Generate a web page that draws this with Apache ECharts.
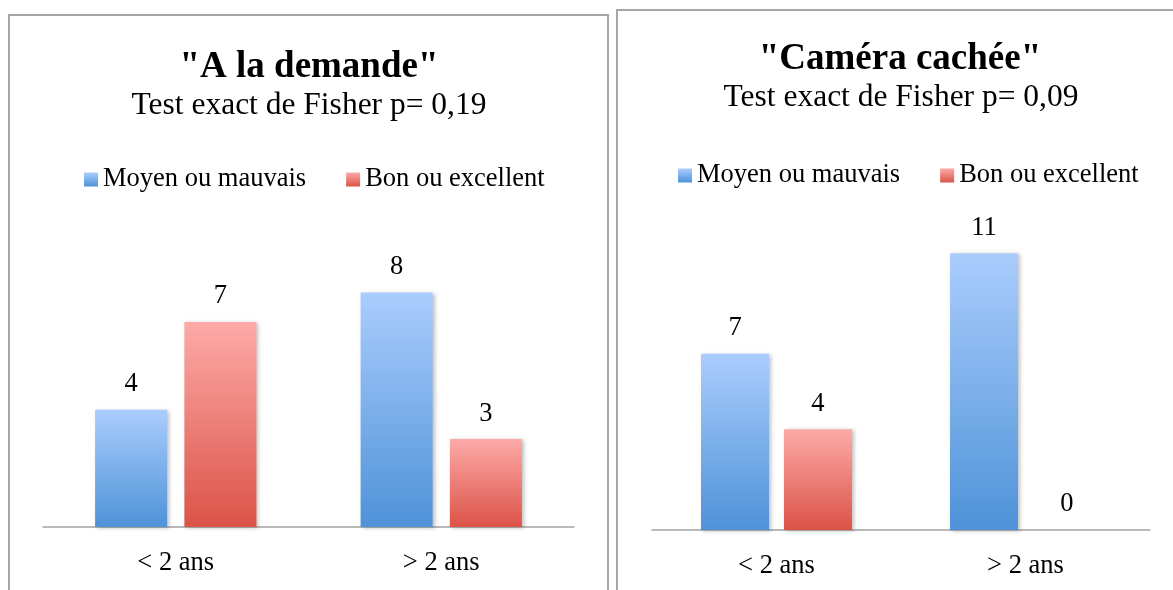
<!DOCTYPE html>
<html>
<head>
<meta charset="utf-8">
<script src="https://cdn.jsdelivr.net/npm/echarts@6/dist/echarts.min.js"></script>
<style>
  html, body { margin: 0; padding: 0; background: #fff; }
  #chart { width: 1173px; height: 590px; }
</style>
</head>
<body>
<div id="chart"></div>
<script>
const categories = ['< 2 ans', '> 2 ans']
const seriesNames = ['Moyen ou mauvais', 'Bon ou excellent']

const demandeTitle = '"A la demande"'
const demandeSubtitle = 'Test exact de Fisher p= 0,19'
const demandeMoyen = [4, 8]
const demandeBon = [7, 3]

const cameraTitle = '"Caméra cachée"'
const cameraSubtitle = 'Test exact de Fisher p= 0,09'
const cameraMoyen = [7, 11]
const cameraBon = [4, 0]

const FONT = "'Liberation Serif', 'Times New Roman', serif"

const blueGrad = new echarts.graphic.LinearGradient(0, 0, 0, 1, [
  { offset: 0, color: '#aacdfd' },
  { offset: 1, color: '#4e92d8' }
])
const redGrad = new echarts.graphic.LinearGradient(0, 0, 0, 1, [
  { offset: 0, color: '#fdaaa8' },
  { offset: 1, color: '#db5347' }
])

const barShadow = {
  shadowBlur: 4,
  shadowOffsetX: 2,
  shadowOffsetY: 1,
  shadowColor: 'rgba(0,0,0,0.25)'
}

const chart = echarts.init(document.getElementById('chart'))

// helper for one bar series
const makeBar = (name, data, color, idx, width, gap) => ({
  name: name,
  type: 'bar',
  xAxisIndex: idx,
  yAxisIndex: idx,
  data: data,
  barWidth: width,
  barGap: gap,
  itemStyle: Object.assign({ color: color }, barShadow),
  label: {
    show: true,
    position: 'top',
    distance: 12,
    color: '#000',
    fontFamily: FONT,
    fontSize: 26.5
  },
  emphasis: { disabled: true },
  animation: false
})

const axisCommon = {
  type: 'category',
  data: categories,
  axisTick: { show: false },
  axisLine: { lineStyle: { color: '#a3a3a3', width: 1.5 } },
  axisLabel: { color: '#000', fontFamily: FONT, fontSize: 26.5, margin: 23 }
}

const yCommon = {
  type: 'value',
  min: 0,
  show: false,
  splitLine: { show: false }
}

const legendCommon = {
  padding: 0,
  itemWidth: 14,
  itemHeight: 14,
  itemGap: 40,
  icon: 'rect',
  textStyle: { color: '#000', fontFamily: FONT, fontSize: 26.5 },
  data: seriesNames
}

const titleStyle = (size, weight) => ({
  fontFamily: FONT, fontSize: size, fontWeight: weight, color: '#000'
})

const option = {
  backgroundColor: '#fff',
  animation: false,
  graphic: [
    {
      type: 'rect',
      shape: { x: 9, y: 15, width: 599, height: 600 },
      style: { fill: 'none', stroke: '#a6a6a6', lineWidth: 2 },
      silent: true
    },
    {
      type: 'rect',
      shape: { x: 617, y: 10, width: 600, height: 600 },
      style: { fill: 'none', stroke: '#a6a6a6', lineWidth: 2 },
      silent: true
    }
  ],
  title: [
    { text: demandeTitle, left: 309, top: 49, padding: 0, textAlign: 'center', textStyle: titleStyle(37, 'bold') },
    { text: demandeSubtitle, left: 309, top: 90, padding: 0, textAlign: 'center', textStyle: titleStyle(31.5, 'normal') },
    { text: cameraTitle, left: 900, top: 41, padding: 0, textAlign: 'center', textStyle: titleStyle(37, 'bold') },
    { text: cameraSubtitle, left: 901, top: 82, padding: 0, textAlign: 'center', textStyle: titleStyle(31.5, 'normal') }
  ],
  legend: [
    Object.assign({ left: 84, top: 166 }, legendCommon),
    Object.assign({ left: 678, top: 162 }, legendCommon)
  ],
  grid: [
    { left: 43, right: 599, top: 234, bottom: 63 },
    { left: 652, right: 23, top: 228, bottom: 60 }
  ],
  xAxis: [
    Object.assign({ gridIndex: 0 }, axisCommon),
    Object.assign({ gridIndex: 1 }, axisCommon)
  ],
  yAxis: [
    Object.assign({ gridIndex: 0, max: 10 }, yCommon),
    Object.assign({ gridIndex: 1, max: 12 }, yCommon)
  ],
  series: [
    makeBar(seriesNames[0], demandeMoyen, blueGrad, 0, 72, '24%'),
    makeBar(seriesNames[1], demandeBon, redGrad, 0, 72, '24%'),
    makeBar(seriesNames[0], cameraMoyen, blueGrad, 1, 68, '22%'),
    makeBar(seriesNames[1], cameraBon, redGrad, 1, 68, '22%')
  ]
}

chart.setOption(option)

window.addEventListener('resize', () => {
  chart.resize()
})
</script>
</body>
</html>
